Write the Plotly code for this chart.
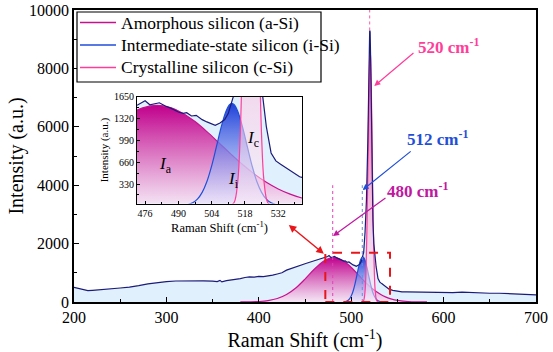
import plotly.graph_objects as go

# ---------------- data ----------------
meas_x = [200, 205, 210, 215, 220, 225, 230, 240, 250, 260, 265, 270, 280, 290, 300, 310, 320, 330,
          340, 350, 355, 358, 360, 365, 370, 375, 380, 385, 390, 395, 400, 405, 410, 415, 420, 425,
          430, 435, 440, 445, 450, 455, 460, 465, 470, 473, 474.5, 476, 478, 480, 482, 484.5, 487,
          490, 492, 493.5, 495.5, 497.5, 500, 502, 504, 505.5, 507.5, 509.5, 511, 512.5, 513.5, 515,
          516.5, 518, 519, 520, 520.5, 521.5, 522.5, 523.5, 524.5, 525.5, 527, 529, 531, 533, 535.5,
          538, 541, 545, 550, 555, 560, 570, 580, 590, 600, 610, 620, 630, 640, 650, 660, 670, 680,
          690, 700]
meas_y = [500, 470, 420, 390, 400, 410, 420, 440, 480, 510, 530, 560, 620, 670, 700, 720, 730, 735,
          725, 715, 700, 740, 690, 730, 750, 770, 800, 840, 860, 850, 880, 870, 890, 920, 960, 1000,
          1090, 1150, 1200, 1250, 1310, 1360, 1410, 1460, 1500, 1530, 1560, 1590, 1530, 1540, 1560,
          1510, 1475, 1420, 1400, 1410, 1360, 1370, 1305, 1270, 1245, 1220, 1255, 1305, 1400, 1560,
          1700, 2400, 3500, 5500, 7700, 9300, 9250, 7500, 4500, 2800, 2000, 1650, 1200, 800, 680, 630,
          570, 510, 440, 400, 370, 350, 345, 340, 330, 320, 330, 320, 340, 320, 310, 300, 300, 290,
          280, 260, 245]

a_x = [380, 390, 400, 410, 420, 430, 440, 450, 460, 470, 475, 481, 487, 492, 497, 502, 507, 512,
       517, 522, 527, 532, 537, 542, 552, 562, 572, 582]
a_y = [1, 5, 17, 48, 118, 255, 480, 786, 1123, 1399, 1483, 1520, 1483, 1399, 1275, 1123, 956, 786,
       625, 480, 356, 255, 177, 118, 48, 17, 5, 1]

i_x = [494, 496, 498, 500, 502, 504, 506, 508, 510, 511.5, 512.5, 513.5, 515, 517, 519, 521, 523,
       525, 527, 529, 531]
i_y = [18, 45, 101, 204, 369, 606, 895, 1191, 1429, 1530, 1550, 1530, 1429, 1191, 895, 606, 369,
       204, 101, 45, 18]

c_x = [512, 513.5, 515, 516, 517, 518, 519, 520, 520.5, 521, 522, 523, 524, 525, 526, 527.5, 529]
c_y = [5, 54, 378, 1062, 2427, 4508, 6817, 8380, 8600, 8380, 6817, 4508, 2427, 1062, 378, 54, 5]

legend_names = ["Amorphous silicon (a-Si)", "Intermediate-state silicon (i-Si)", "Crystalline silicon (c-Si)"]
x_ticks_main = [200, 300, 400, 500, 600, 700]
y_ticks_main = [0, 2000, 4000, 6000, 8000, 10000]
x_ticks_inset = [476, 490, 504, 518, 532]
y_ticks_inset = [330, 660, 990, 1320, 1650]

# ---------------- styles ----------------
FONT = "Liberation Serif"
NAVY = "#1b1b7a"
MAG = "#c8118f"
BLUE = "#1f4fd8"
PINK = "#ff3d9a"
FILL_BLUE = "rgba(205,230,250,0.62)"

fig = go.Figure()

for xa, ya in [("x", "y"), ("x2", "y2")]:
    fig.add_trace(go.Scatter(x=meas_x, y=meas_y, mode="lines", line=dict(width=0, color=NAVY),
                             fill="tozeroy", fillcolor=FILL_BLUE, showlegend=False,
                             xaxis=xa, yaxis=ya, hoverinfo="skip"))
    fig.add_trace(go.Scatter(x=a_x, y=a_y, mode="lines", line=dict(color=MAG, width=1.2, shape="spline"),
                             fill="tozeroy", name=legend_names[0],
                             fillgradient=dict(type="vertical",
                                               colorscale=[[0, "rgba(248,228,244,0.85)"], [1, "rgba(192,0,140,1)"]]),
                             showlegend=False, xaxis=xa, yaxis=ya))
    fig.add_trace(go.Scatter(x=i_x, y=i_y, mode="lines", line=dict(color=BLUE, width=1.2, shape="spline"),
                             fill="tozeroy", name=legend_names[1],
                             fillgradient=dict(type="vertical",
                                               colorscale=[[0, "rgba(232,232,255,0.55)"], [1, "rgba(20,55,215,0.95)"]]),
                             showlegend=False, xaxis=xa, yaxis=ya))
    fig.add_trace(go.Scatter(x=c_x, y=c_y, mode="lines", line=dict(color=PINK, width=1.2, shape="spline"),
                             fill="tozeroy", name=legend_names[2],
                             fillgradient=dict(type="vertical",
                                               colorscale=[[0, "rgba(255,236,246,0.5)"], [1, "rgba(255,60,150,0.95)"]]),
                             showlegend=False, xaxis=xa, yaxis=ya))
    fig.add_trace(go.Scatter(x=meas_x, y=meas_y, mode="lines", line=dict(width=1.2, color=NAVY),
                             showlegend=False, xaxis=xa, yaxis=ya, hoverinfo="skip"))

axis_common = dict(showline=True, linecolor="black", mirror=True, ticks="inside", tickcolor="black",
                   showgrid=False, zeroline=False, automargin=False)

fig.update_layout(
    width=553, height=352,
    margin=dict(l=74, r=17, t=10, b=50),
    paper_bgcolor="white", plot_bgcolor="white",
    font=dict(family=FONT, color="black", size=16),
    showlegend=False,
    xaxis=dict(range=[200, 700], tickvals=x_ticks_main, ticktext=[str(v) for v in x_ticks_main],
               ticklen=5, linewidth=1.5,
               minor=dict(dtick=50, ticklen=3, ticks="inside", tickcolor="black"),
               title=dict(text="Raman Shift (cm<sup>-1</sup>)", font=dict(size=20), standoff=8),
               tickfont=dict(size=16), **axis_common),
    yaxis=dict(range=[0, 10000], tickvals=y_ticks_main, ticktext=[str(v) for v in y_ticks_main],
               ticklen=5, linewidth=1.5,
               minor=dict(dtick=1000, ticklen=3, ticks="inside", tickcolor="black"),
               title=dict(text="Intensity (a.u.)", font=dict(size=20), standoff=0),
               tickfont=dict(size=16), **axis_common),
    xaxis2=dict(domain=[0.1364, 0.4935], range=[472.6, 542], anchor="y2", tickvals=x_ticks_inset,
                ticktext=[str(v) for v in x_ticks_inset],
                ticklen=3, linewidth=1,
                minor=dict(dtick=7, tick0=476, ticklen=2, ticks="inside", tickcolor="black"),
                title=dict(text="Raman Shift (cm<sup>-1</sup>)", font=dict(size=12.5), standoff=4),
                tickfont=dict(size=10), **axis_common),
    yaxis2=dict(domain=[0.3373, 0.7031], range=[35, 1652], anchor="x2", tickvals=y_ticks_inset,
                ticktext=[str(v) for v in y_ticks_inset],
                ticklen=3, linewidth=1,
                minor=dict(dtick=165, ticklen=2, ticks="inside", tickcolor="black"),
                title=dict(text="Intensity (a.u.)", font=dict(size=11), standoff=3),
                tickfont=dict(size=10), **axis_common),
)

# ---- legend box (drawn in paper coordinates of the main plot area) ----
PL, PW, PB, PH = 74, 462, 302, 292
def px(xp):
    return (xp - PL) / PW
def py(yp):
    return (PB - yp) / PH

fig.add_shape(type="rect", xref="paper", yref="paper", x0=px(77), x1=px(321), y0=py(82), y1=py(12),
              line=dict(color="black", width=1.2), fillcolor="white", layer="above")
for k, (name, col) in enumerate(zip(legend_names, [MAG, BLUE, PINK])):
    yy = 22.5 + 22.5 * k
    fig.add_shape(type="line", xref="paper", yref="paper", x0=px(80), x1=px(116), y0=py(yy), y1=py(yy),
                  line=dict(color=col, width=1.5), layer="above")
    fig.add_annotation(x=px(119), y=py(yy), xref="paper", yref="paper", text=name, showarrow=False,
                       xanchor="left", yanchor="middle", font=dict(family=FONT, size=17.5, color="black"))

# reference lines and box
fig.add_shape(type="line", x0=480, x1=480, y0=0, y1=4000, xref="x", yref="y",
              line=dict(color="#e040b8", width=1, dash="dot"))
fig.add_shape(type="line", x0=512, x1=512, y0=0, y1=4000, xref="x", yref="y",
              line=dict(color="#6a8ae0", width=1, dash="dot"))
fig.add_shape(type="line", x0=520, x1=520, y0=9300, y1=10000, xref="x", yref="y",
              line=dict(color="#ff5aa8", width=1, dash="dot"))
fig.add_shape(type="rect", x0=472, x1=542, y0=0, y1=1690, xref="x", yref="y",
              line=dict(color="#e8161b", width=2, dash="dash"))

# peak labels
labels = [("520 cm<sup>-1</sup>", 605, 8770, PINK, 525, 7400, 569, 8570),
          ("512 cm<sup>-1</sup>", 593, 5616, BLUE, 512.4, 3835, 566, 5200),
          ("480 cm<sup>-1</sup>", 572, 3835, "#c0189f", 480.4, 2260, 538.7, 3600)]
for txt, tx, ty, col, hx, hy, axv, ayv in labels:
    fig.add_annotation(x=tx, y=ty, xref="x", yref="y", text="<b>" + txt + "</b>", showarrow=False,
                       font=dict(family=FONT, size=17, color=col))
    fig.add_annotation(x=hx, y=hy, ax=axv, ay=ayv, xref="x", yref="y", axref="x", ayref="y", text="",
                       showarrow=True, arrowhead=2, arrowsize=1, arrowwidth=1.2, arrowcolor=col)

# red double arrow towards inset
fig.add_annotation(x=432.5, y=2637, ax=472, ay=1610, xref="x", yref="y", axref="x", ayref="y", text="",
                   showarrow=True, arrowhead=2, startarrowhead=2, arrowside="end+start",
                   arrowsize=1, arrowwidth=1.5, arrowcolor="#e8161b")

# inset component labels
for txt, tx, ty in [("<i>I</i><sub>a</sub>", 484.4, 617), ("<i>I</i><sub>i</sub>", 513, 390),
                    ("<i>I</i><sub>c</sub>", 521.5, 1006)]:
    fig.add_annotation(x=tx, y=ty, xref="x2", yref="y2", text=txt, showarrow=False,
                       font=dict(family=FONT, size=17, color="black"))

fig.write_html("out.html")
